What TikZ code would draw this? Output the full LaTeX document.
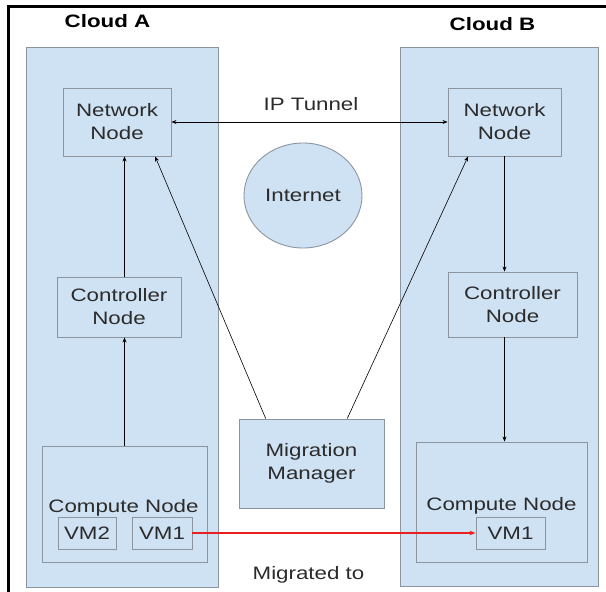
\documentclass[tikz,border=0pt]{standalone}
\usepackage{fontspec}
\setmainfont{Liberation Sans}[FakeStretch=1.24]
\usetikzlibrary{calc,arrows.meta,shapes.geometric}
\definecolor{panelblue}{HTML}{CFE2F3}
\definecolor{edgegray}{HTML}{8C959E}
\definecolor{inktext}{HTML}{2B2B2B}
\definecolor{migred}{HTML}{E82020}

\begin{document}
\begin{tikzpicture}[x=1pt,y=-1pt,
  panel/.style={draw=edgegray, fill=panelblue, line width=0.9pt, inner sep=0pt},
  box/.style={draw=edgegray, fill=panelblue, line width=0.9pt, inner sep=0pt,
    align=center, text=inktext, font=\fontsize{18}{23}\selectfont},
  lbl/.style={text=inktext, font=\fontsize{18}{23}\selectfont, inner sep=0pt, anchor=base},
  cloudtitle/.style={text=black, font=\fontsize{18}{22}\selectfont\bfseries, inner sep=0pt, anchor=base},
  arr/.style={draw=black, line width=0.6pt, -{Stealth[length=5pt,width=4pt]}},
  biarr/.style={draw=black, line width=0.6pt, {Stealth[length=5pt,width=4pt]}-{Stealth[length=5pt,width=4pt]}},
  redarr/.style={color=migred, line width=1.2pt, -{Stealth[length=6pt,width=4.5pt]}},
]
\useasboundingbox (0,0) rectangle (606,592);
\fill[white] (0,0) rectangle (606,592);

% frame lines
\draw[line width=3pt] (8.5,592) -- (8.5,6) -- (606,6);

% cloud panels
\node[panel, minimum width=192pt, minimum height=540pt] (panelA) at (122,317) {};
\node[panel, minimum width=198pt, minimum height=539pt] (panelB) at (499,316.5) {};
\node[cloudtitle] (titleA) at (107.5,27) {Cloud A};
\node[cloudtitle] (titleB) at (492.5,30) {Cloud B};

% cloud A
\node[box, minimum width=108pt, minimum height=68pt] (netA) at (117,122) {Network\\Node};
\node[box, minimum width=124pt, minimum height=60pt] (ctrlA) at (119,307) {Controller\\Node};
\node[box, minimum width=165pt, minimum height=116pt] (compA) at (124.5,504) {};
\node[lbl] (compAtext) at (123.5,512) {Compute Node};
\node[box, minimum width=58pt, minimum height=32pt] (vm2A) at (87,533) {VM2};
\node[box, minimum width=60pt, minimum height=32pt] (vm1A) at (162,533) {VM1};

% cloud B
\node[box, minimum width=113pt, minimum height=68pt] (netB) at (504.5,122) {Network\\Node};
\node[box, minimum width=129pt, minimum height=65pt] (ctrlB) at (512.5,304.5) {Controller\\Node};
\node[box, minimum width=171pt, minimum height=120pt] (compB) at (501.5,502) {};
\node[lbl] (compBtext) at (501.5,510) {Compute Node};
\node[box, minimum width=69pt, minimum height=32pt] (vm1B) at (510.5,533) {VM1};

% middle
\node[box, ellipse, minimum width=118pt, minimum height=105pt] (inet) at (303,195.5) {Internet};
\node[box, minimum width=145pt, minimum height=89pt] (mm) at (311.5,463.5) {Migration\\Manager};
\node[lbl] (tunnel) at (311,110) {IP Tunnel};
\node[lbl] (migrated) at (308.5,579) {Migrated to};

% connectors
\draw[biarr] (netA.east) -- (netB.west);
\draw[arr] (compA.north) -- (compA.north |- ctrlA.south);
\draw[arr] (ctrlA.north -| compA.north) -- (compA.north |- netA.south);
\draw[arr] (netB.south) -- (netB.south |- ctrlB.north);
\draw[arr] (ctrlB.south -| netB.south) -- (netB.south |- compB.north);
\draw[arr] ($(mm.north west)!0.186!(mm.north east)$) -- ($(netA.south west)!0.85!(netA.south east)$);
\draw[arr] ($(mm.north west)!0.745!(mm.north east)$) -- ($(netB.south west)!0.18!(netB.south east)$);
\draw[redarr] (vm1A.east) -- (vm1B.west);
\end{tikzpicture}
\end{document}
